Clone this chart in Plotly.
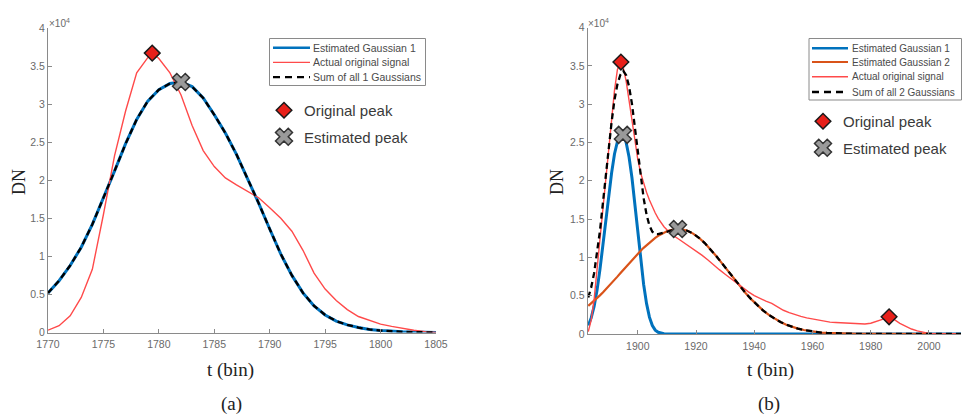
import plotly.graph_objects as go

W, H = 965, 416

# ---------------- data (DN, in units of 1e4) ----------------
# panel (a)
t_a = list(range(1770, 1806))
gauss1_a = [0.52, 0.68, 0.88, 1.12, 1.42, 1.76, 2.12, 2.48, 2.80, 3.04, 3.19, 3.27,
            3.29, 3.23, 3.08, 2.86, 2.62, 2.34, 2.03, 1.70, 1.36, 1.03, 0.75, 0.52,
            0.35, 0.23, 0.15, 0.10, 0.065, 0.04, 0.025, 0.015, 0.009, 0.005, 0.003, 0.001]
sum_a = [0.52, 0.68, 0.88, 1.12, 1.42, 1.76, 2.12, 2.48, 2.80, 3.04, 3.19, 3.27,
         3.29, 3.23, 3.08, 2.86, 2.62, 2.34, 2.03, 1.70, 1.36, 1.03, 0.75, 0.52,
         0.35, 0.23, 0.15, 0.10, 0.065, 0.04, 0.025, 0.015, 0.009, 0.005, 0.003, 0.001]
t_sig_a = [1770, 1771, 1772, 1773, 1774, 1775, 1776, 1777, 1778, 1779, 1779.4,
           1780, 1781, 1782, 1783, 1784, 1785, 1786, 1787, 1788, 1789, 1790, 1791,
           1792, 1793, 1794, 1795, 1796, 1797, 1798, 1799, 1800, 1801, 1802, 1803,
           1804, 1805]
signal_a = [0.03, 0.09, 0.22, 0.46, 0.83, 1.55, 2.32, 2.91, 3.41, 3.61, 3.67,
            3.60, 3.41, 3.12, 2.72, 2.39, 2.18, 2.03, 1.94, 1.86, 1.77, 1.64, 1.50,
            1.33, 1.08, 0.78, 0.57, 0.42, 0.30, 0.21, 0.16, 0.11, 0.08, 0.05, 0.03,
            0.012, 0.0]
orig_peak_a_t = [1779.4]
orig_peak_a_v = [3.67]
est_peak_a_t = [1782.0]
est_peak_a_v = [3.29]

# panel (b)
t_b1 = list(range(1883, 1912)) + [2011]
gauss1_b = [0.11, 0.21, 0.36, 0.57, 0.84, 1.16, 1.49, 1.81, 2.10, 2.35, 2.51, 2.59,
            2.60, 2.50, 2.31, 2.04, 1.70, 1.33, 0.97, 0.65, 0.40, 0.22, 0.11, 0.05,
            0.022, 0.009, 0.004, 0.001, 0.0, 0.0]
t_b2 = list(range(1883, 1913)) + list(range(1913, 2012, 2))
gauss2_b = [0.367, 0.399, 0.433, 0.468, 0.504, 0.543, 0.582, 0.622, 0.664, 0.706,
            0.749, 0.792, 0.836, 0.879, 0.922, 0.965, 1.007, 1.047, 1.087, 1.125,
            1.160, 1.194, 1.226, 1.255, 1.281, 1.304, 1.324, 1.340, 1.353, 1.362,
            1.368, 1.368, 1.348, 1.311, 1.256, 1.187, 1.105, 1.015, 0.919, 0.821,
            0.722, 0.627, 0.536, 0.452, 0.376, 0.308, 0.249, 0.199, 0.156, 0.121,
            0.092, 0.070, 0.052, 0.038, 0.027, 0.019, 0.0136, 0.0094, 0.0064, 0.0043,
            0.0029, 0.0019, 0.0012, 0.0008, 0.0005, 0.0003, 0.0002, 0.0001,
            0, 0, 0, 0, 0, 0, 0, 0, 0, 0, 0, 0]
sum_b = [0.477, 0.609, 0.793, 1.038, 1.344, 1.703, 2.072, 2.432, 2.764, 3.056,
         3.259, 3.382, 3.436, 3.379, 3.232, 3.005, 2.707, 2.377, 2.057, 1.775,
         1.560, 1.414, 1.336, 1.305, 1.303, 1.313, 1.328, 1.341, 1.353, 1.362,
         1.368, 1.368, 1.348, 1.311, 1.256, 1.187, 1.105, 1.015, 0.919, 0.821,
         0.722, 0.627, 0.536, 0.452, 0.376, 0.308, 0.249, 0.199, 0.156, 0.121,
         0.092, 0.070, 0.052, 0.038, 0.027, 0.019, 0.0136, 0.0094, 0.0064, 0.0043,
         0.0029, 0.0019, 0.0012, 0.0008, 0.0005, 0.0003, 0.0002, 0.0001,
         0, 0, 0, 0, 0, 0, 0, 0, 0, 0, 0, 0]
t_sig_b = list(range(1883, 1913)) + list(range(1914, 2011, 2))
signal_b = [0.03, 0.18, 0.45, 0.83, 1.20, 1.60, 1.98, 2.38, 2.78, 3.18, 3.45, 3.55,
            3.48, 3.30, 3.05, 2.80, 2.52, 2.28, 2.10, 1.97, 1.85, 1.75, 1.66, 1.58,
            1.51, 1.45, 1.40, 1.36, 1.32, 1.29,
            1.24, 1.19, 1.14, 1.08, 1.03, 0.97, 0.90, 0.84, 0.78, 0.72,
            0.66, 0.60, 0.55, 0.50, 0.46, 0.43, 0.40, 0.35, 0.31, 0.28,
            0.25, 0.23, 0.21, 0.195, 0.18, 0.165, 0.155, 0.15, 0.145, 0.14,
            0.135, 0.13, 0.13, 0.14, 0.16, 0.19, 0.225, 0.19, 0.14, 0.10,
            0.065, 0.04, 0.02, 0.008, 0.002, 0.0, 0.0, 0.0, 0.0]
orig_peak_b_t = [1894.2, 1986.3]
orig_peak_b_v = [3.55, 0.225]
est_peak_b_t = [1894.9, 1913.8]
est_peak_b_v = [2.60, 1.37]

xticks_a = [1770, 1775, 1780, 1785, 1790, 1795, 1800, 1805]
xticks_b = [1900, 1920, 1940, 1960, 1980, 2000]
yticks = [0, 0.5, 1, 1.5, 2, 2.5, 3, 3.5, 4]
yticklabels = ["0", "0.5", "1", "1.5", "2", "2.5", "3", "3.5", "4"]

# ---------------- style ----------------
BLUE = "#0072BD"
ORANGE = "#D95319"
RED = "#ff4a4a"
AXC = "#8a8a8a"
SANS = "Liberation Sans, Arial, sans-serif"
SERIF = "Liberation Serif, Times New Roman, serif"
DASH = "6px,4px"


def px(x):
    return x / W


def py(y):
    return 1 - y / H


fig = go.Figure()

# panel (a) traces
fig.add_trace(go.Scatter(x=t_a, y=gauss1_a, mode="lines", name="Estimated Gaussian 1",
                         line=dict(color=BLUE, width=3), xaxis="x", yaxis="y", showlegend=False))
fig.add_trace(go.Scatter(x=t_sig_a, y=signal_a, mode="lines", name="Actual original signal",
                         line=dict(color=RED, width=1.4), xaxis="x", yaxis="y", showlegend=False))
fig.add_trace(go.Scatter(x=t_a, y=sum_a, mode="lines", name="Sum of all 1 Gaussians",
                         line=dict(color="black", width=2.3, dash=DASH), xaxis="x", yaxis="y",
                         showlegend=False))
fig.add_trace(go.Scatter(x=orig_peak_a_t, y=orig_peak_a_v, mode="markers", name="Original peak",
                         marker=dict(symbol="diamond", size=12, color="#e8201a",
                                     line=dict(color="#1a1a1a", width=1.5)),
                         xaxis="x", yaxis="y", legend="legend", legendgroup="a1"))
fig.add_trace(go.Scatter(x=est_peak_a_t, y=est_peak_a_v, mode="markers", name="Estimated peak",
                         marker=dict(symbol="x", size=15, color="#9a9a9a",
                                     line=dict(color="#333333", width=1.5)),
                         xaxis="x", yaxis="y", legend="legend", legendgroup="a2"))

# panel (b) traces
fig.add_trace(go.Scatter(x=t_b1, y=gauss1_b, mode="lines", name="Estimated Gaussian 1",
                         line=dict(color=BLUE, width=3), xaxis="x2", yaxis="y2", showlegend=False))
fig.add_trace(go.Scatter(x=t_b2, y=gauss2_b, mode="lines", name="Estimated Gaussian 2",
                         line=dict(color=ORANGE, width=2.2), xaxis="x2", yaxis="y2", showlegend=False))
fig.add_trace(go.Scatter(x=t_sig_b, y=signal_b, mode="lines", name="Actual original signal",
                         line=dict(color=RED, width=1.4), xaxis="x2", yaxis="y2", showlegend=False))
fig.add_trace(go.Scatter(x=t_b2, y=sum_b, mode="lines", name="Sum of all 2 Gaussians",
                         line=dict(color="black", width=2.3, dash=DASH), xaxis="x2", yaxis="y2",
                         showlegend=False))
fig.add_trace(go.Scatter(x=orig_peak_b_t, y=orig_peak_b_v, mode="markers", name="Original peak",
                         marker=dict(symbol="diamond", size=12, color="#e8201a",
                                     line=dict(color="#1a1a1a", width=1.5)),
                         xaxis="x2", yaxis="y2", legend="legend2", legendgroup="b1"))
fig.add_trace(go.Scatter(x=est_peak_b_t, y=est_peak_b_v, mode="markers", name="Estimated peak",
                         marker=dict(symbol="x", size=15, color="#9a9a9a",
                                     line=dict(color="#333333", width=1.5)),
                         xaxis="x2", yaxis="y2", legend="legend2", legendgroup="b2"))

axis_common = dict(showline=True, linecolor=AXC, linewidth=1, ticks="inside", ticklen=4,
                   tickcolor=AXC, tickwidth=1, showgrid=False, zeroline=False, automargin=False,
                   tickfont=dict(family=SANS, size=10.5, color="#6a6a6a"))

shapes = []
annotations = []


def boxed_legend(x0, y0, x1, y1, rows, line_x0, line_x1, text_x, fsize):
    shapes.append(dict(type="rect", xref="paper", yref="paper", x0=px(x0), x1=px(x1),
                       y0=py(y1), y1=py(y0), line=dict(color="#8a8a8a", width=1),
                       fillcolor="white", layer="above"))
    for (yy, label, color, width, dash) in rows:
        shapes.append(dict(type="line", xref="paper", yref="paper", x0=px(line_x0), x1=px(line_x1),
                           y0=py(yy), y1=py(yy), line=dict(color=color, width=width, dash=dash),
                           layer="above"))
        annotations.append(dict(text=label, xref="paper", yref="paper", x=px(text_x), y=py(yy),
                                xanchor="left", yanchor="middle", showarrow=False,
                                font=dict(family=SANS, size=fsize, color="#4a4a4a")))


boxed_legend(269.5, 38.5, 425.5, 85.5,
             [(47.8, "Estimated Gaussian 1", BLUE, 2.5, "solid"),
              (62.4, "Actual original signal", RED, 1.4, "solid"),
              (77.2, "Sum of all 1 Gaussians", "black", 2.3, "7px,5px")],
             273, 310, 311, 10.5)
boxed_legend(809, 38.5, 961.5, 100,
             [(48.2, "Estimated Gaussian 1", BLUE, 2.5, "solid"),
              (62.0, "Estimated Gaussian 2", ORANGE, 2.2, "solid"),
              (76.8, "Actual original signal", RED, 1.4, "solid"),
              (92.0, "Sum of all 2 Gaussians", "black", 2.3, "7px,5px")],
             812, 848, 850, 10)

# exponent labels
annotations.append(dict(text="×10<sup>4</sup>", xref="paper", yref="paper", x=px(47), y=py(23),
                        xanchor="left", yanchor="middle", showarrow=False,
                        font=dict(family=SANS, size=10, color="#6a6a6a")))
annotations.append(dict(text="×10<sup>4</sup>", xref="paper", yref="paper", x=px(586), y=py(23),
                        xanchor="left", yanchor="middle", showarrow=False,
                        font=dict(family=SANS, size=10, color="#6a6a6a")))
# axis titles
for (xx, yy, txt, ang, size) in [(19, 182, "DN", -90, 18), (557, 182, "DN", -90, 18),
                                  (230, 370, "t (bin)", 0, 19), (770, 370, "t (bin)", 0, 19),
                                  (231, 404, "(a)", 0, 19), (769, 404, "(b)", 0, 19)]:
    annotations.append(dict(text=txt, xref="paper", yref="paper", x=px(xx), y=py(yy),
                            xanchor="center", yanchor="middle", showarrow=False, textangle=ang,
                            font=dict(family=SERIF, size=size, color="#222222")))

leg_common = dict(xanchor="left", yanchor="top", bgcolor="rgba(0,0,0,0)", borderwidth=0,
                  font=dict(family=SANS, size=15, color="#3a3a3a"),
                  traceorder="grouped", tracegroupgap=4)

fig.update_layout(
    width=W, height=H,
    margin=dict(l=0, r=0, t=0, b=0, autoexpand=False),
    paper_bgcolor="white", plot_bgcolor="white",
    showlegend=True,
    xaxis=dict(domain=[px(48), px(436)], range=[1770, 1805], anchor="y",
               tickvals=xticks_a, ticklabelstandoff=2, **axis_common),
    yaxis=dict(domain=[py(332.5), py(28)], range=[0, 4], anchor="x",
               tickvals=yticks, ticktext=yticklabels, **axis_common),
    xaxis2=dict(domain=[px(587.7), px(961)], range=[1882.8, 2011], anchor="y2",
                tickvals=xticks_b, ticklabelstandoff=2, **axis_common),
    yaxis2=dict(domain=[py(334), py(27.6)], range=[0, 4], anchor="x2",
                tickvals=yticks, ticktext=yticklabels, **axis_common),
    legend=dict(x=px(264), y=py(94), **leg_common),
    legend2=dict(x=px(803), y=py(105), **leg_common),
    shapes=shapes,
    annotations=annotations,
)

fig.write_html("out.html", config={"displayModeBar": False},
               post_script="document.body.style.margin='0';document.body.style.overflow='hidden';")
